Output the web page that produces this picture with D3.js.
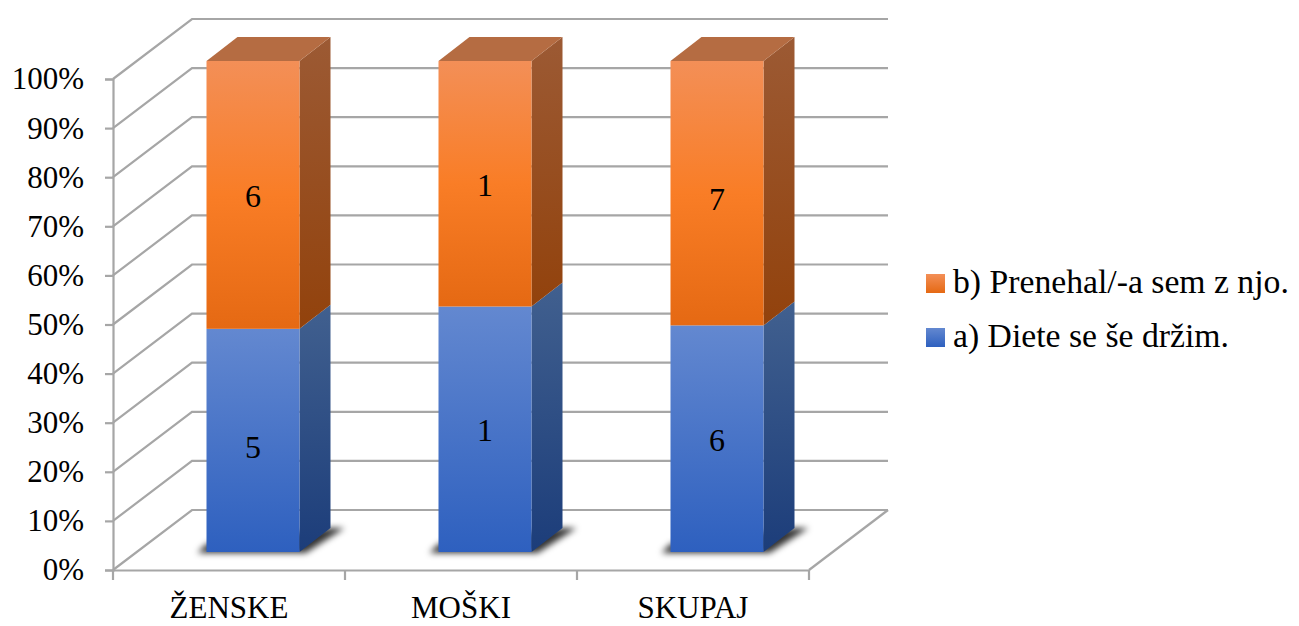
<!DOCTYPE html>
<html>
<head>
<meta charset="utf-8">
<script src="https://cdn.jsdelivr.net/npm/d3@7"></script>
<style>
  html, body { margin: 0; padding: 0; background: #fff; }
  svg { display: block; }
  text { font-family: "Liberation Serif", serif; fill: #000; font-variant-numeric: oldstyle-nums; }
</style>
</head>
<body>
<svg id="chart" width="1299" height="626"></svg>
<script>
// Answers per group, shown as 100% stacked 3D columns
const categories = ["ŽENSKE", "MOŠKI", "SKUPAJ"];
const seriesNames = ["a) Diete se še držim.", "b) Prenehal/-a sem z njo."];
const dietStill = [5, 1, 6];
const dietStopped = [6, 1, 7];
const percentTicks = [0, 0.1, 0.2, 0.3, 0.4, 0.5, 0.6, 0.7, 0.8, 0.9, 1];

const svg = d3.select("#chart");
const defs = svg.append("defs");

// Plot box: front plane of the walls, plus the projected depth of the box
const plot = { left: 113, right: 809, bottom: 570, top: 79, depthX: 79, depthY: 60 };
const barDepth = { x: 31, y: 24 };     // projected column depth
const barOffset = { x: 24, y: 18 };    // column front face inside the floor
const barWidth = 93;
const gridColor = "#a6a6a6";
const gridWidth = 2.2;

const x = d3.scaleBand().domain(categories).range([plot.left, plot.right]);
const y = d3.scaleLinear().domain([0, 1]).range([plot.bottom, plot.top]);

const rows = categories.map((c, i) => ({ category: c, still: dietStill[i], stopped: dietStopped[i] }));
const stacked = d3.stack().keys(["still", "stopped"]).offset(d3.stackOffsetExpand)(rows);

const palette = [
  { front: [[0, "#6388d0"], [1, "#2e60bf"]], side: [[0, "#41608f"], [1, "#1c3d7a"]], top: "#4a6ea8", swatch: [[0, "#6388d0"], [1, "#2e60bf"]] },
  { front: [[0, "#f38f57"], [0.5, "#f97d26"], [1, "#e56913"]], side: [[0, "#9c5a34"], [1, "#92420c"]], top: "#b56c42", swatch: [[0, "#f38f57"], [1, "#e56913"]] }
];

function gradient(id, stops) {
  const g = defs.append("linearGradient").attr("id", id)
    .attr("x1", 0).attr("y1", 0).attr("x2", 0).attr("y2", 1);
  stops.forEach(s => g.append("stop").attr("offset", s[0]).attr("stop-color", s[1]));
}
palette.forEach((p, i) => {
  gradient("front" + i, p.front);
  gradient("side" + i, p.side);
  gradient("swatch" + i, p.swatch);
});
defs.append("filter").attr("id", "soft")
  .attr("x", "-30%").attr("y", "-80%").attr("width", "160%").attr("height", "260%")
  .append("feGaussianBlur").attr("stdDeviation", 3.2);

// Back wall and side wall gridlines
const grid = svg.append("g").attr("fill", "none").attr("stroke", gridColor).attr("stroke-width", gridWidth);
grid.selectAll("polyline.level").data(percentTicks).join("polyline")
  .attr("class", "level")
  .attr("points", d => [
    [plot.left, y(d)],
    [plot.left + plot.depthX, y(d) - plot.depthY],
    [plot.right + plot.depthX, y(d) - plot.depthY]
  ].join(" "));

// Floor edge on the right
grid.append("polyline").attr("points", [
  [plot.right, plot.bottom],
  [plot.right + plot.depthX, plot.bottom - plot.depthY]
].join(" "));

// Value axis
const yAxis = svg.append("g").attr("transform", `translate(${plot.left},0)`)
  .call(d3.axisLeft(y).tickValues(percentTicks).tickFormat(d3.format(".0%")).tickSize(8).tickPadding(21));
yAxis.selectAll("text").attr("font-size", 31).attr("font-family", "Liberation Serif");

// Category axis: labels centred in each band, tick marks on the band edges
const xAxis = svg.append("g").attr("transform", `translate(0,${plot.bottom})`)
  .call(d3.axisBottom(x).tickSize(0).tickPadding(26));
xAxis.selectAll("text").attr("font-size", 31).attr("font-family", "Liberation Serif");
xAxis.append("g").selectAll("line")
  .data(categories.map(c => x(c)).concat(plot.right)).join("line")
  .attr("x1", d => d).attr("x2", d => d).attr("y1", 0).attr("y2", 10);

[yAxis, xAxis].forEach(a => {
  a.selectAll("path.domain").attr("stroke", gridColor).attr("stroke-width", gridWidth);
  a.selectAll("line").attr("stroke", gridColor).attr("stroke-width", gridWidth);
});

const barLeft = c => x(c) + x.bandwidth() / 2 + barOffset.x - barWidth / 2;
const barY = v => y(v) - barOffset.y;

// Digits 5 and 7 hang below the line in the chart's numeral style
const digitDrop = { 5: 6, 7: 5 };

// Soft shadows cast on the floor
svg.append("g").selectAll("polygon").data(categories).join("polygon")
  .attr("filter", "url(#soft)")
  .attr("fill", "#000").attr("fill-opacity", 0.8)
  .attr("points", c => {
    const l = barLeft(c), r = l + barWidth, b = barY(0);
    return [
      [l - 9, b + 1], [l, b - 8], [r + barDepth.x, b - barDepth.y],
      [r + barDepth.x + 14, b - barDepth.y], [r + 6, b + 1]
    ].join(" ");
  });

// Columns: side faces, top face, then front faces
const cols = svg.append("g");
stacked.forEach((layer, i) => {
  const g = cols.append("g");
  layer.forEach((d, j) => {
    const c = categories[j];
    const l = barLeft(c), r = l + barWidth;
    const y0 = barY(d[0]), y1 = barY(d[1]);
    const value = d.data[layer.key];
    g.append("polygon").attr("fill", `url(#side${i})`)
      .attr("points", [[r, y0], [r, y1], [r + barDepth.x, y1 - barDepth.y], [r + barDepth.x, y0 - barDepth.y]].join(" "));
    if (i === stacked.length - 1) {
      g.append("polygon").attr("fill", palette[i].top)
        .attr("points", [[l, y1], [l + barDepth.x, y1 - barDepth.y], [r + barDepth.x, y1 - barDepth.y], [r, y1]].join(" "));
    }
    g.append("rect").attr("x", l).attr("y", y1).attr("width", barWidth).attr("height", y0 - y1)
      .attr("fill", `url(#front${i})`);
    g.append("text")
      .attr("x", l + barWidth / 2).attr("y", (y0 + y1) / 2 + 12 + (digitDrop[value] || 0))
      .attr("text-anchor", "middle").attr("font-size", 32)
      .text(value);
  });
});

// Legend, stopped series listed first
const legend = svg.append("g");
const legendRows = [
  { name: seriesNames[1], index: 1, top: 274 },
  { name: seriesNames[0], index: 0, top: 328 }
];
legend.selectAll("rect").data(legendRows).join("rect")
  .attr("x", 926).attr("y", d => d.top).attr("width", 19).attr("height", 19)
  .attr("fill", d => `url(#swatch${d.index})`);
legend.selectAll("text").data(legendRows).join("text")
  .attr("x", 953).attr("y", d => d.top + 19)
  .attr("font-size", 33.7)
  .text(d => d.name);
</script>
</body>
</html>
